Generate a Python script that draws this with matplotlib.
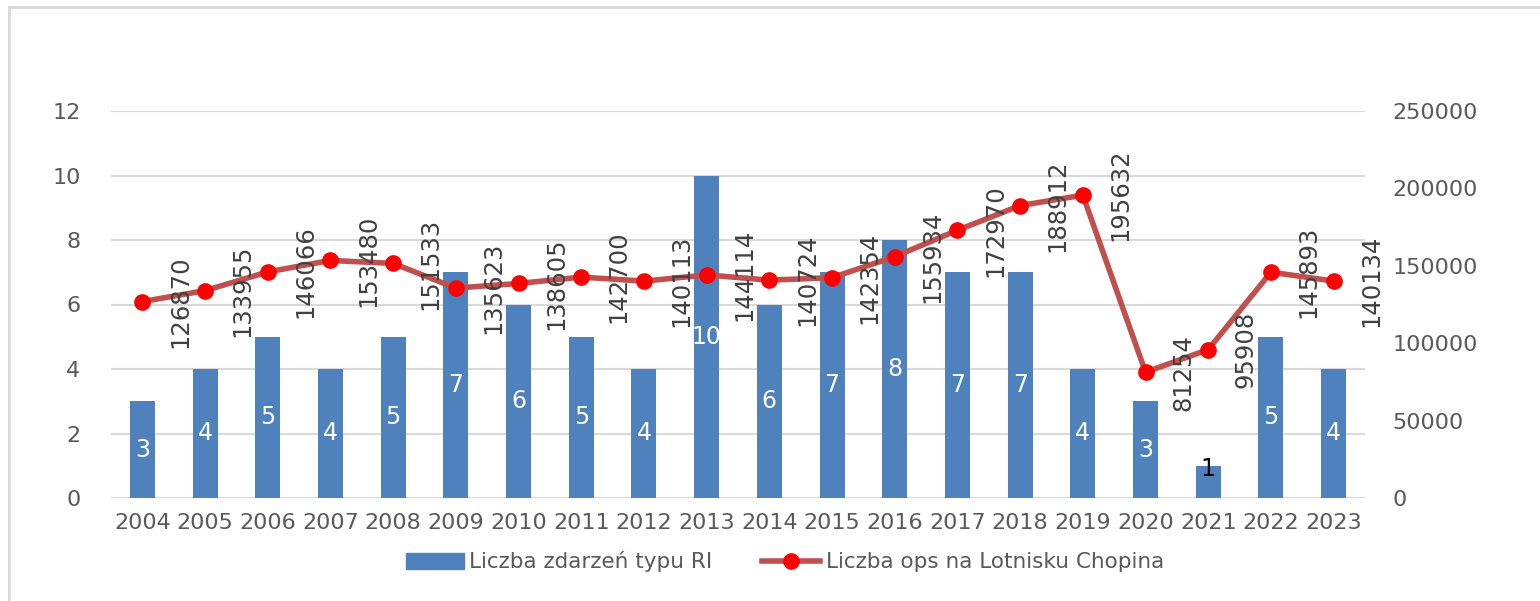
import matplotlib
matplotlib.use("Agg")
import matplotlib.pyplot as plt
from matplotlib.lines import Line2D
import numpy as np

years = ["2004", "2005", "2006", "2007", "2008", "2009", "2010", "2011", "2012", "2013",
         "2014", "2015", "2016", "2017", "2018", "2019", "2020", "2021", "2022", "2023"]
ri_events = [3, 4, 5, 4, 5, 7, 6, 5, 4, 10, 6, 7, 8, 7, 7, 4, 3, 1, 5, 4]
ops = [126870, 133955, 146066, 153480, 151533, 135623, 138605, 142700, 140113, 144114,
       140724, 142354, 155934, 172970, 188912, 195632, 81254, 95908, 145893, 140134]
left_ticks = [0, 2, 4, 6, 8, 10, 12]
right_ticks = [0, 50000, 100000, 150000, 200000, 250000]
bar_label = "Liczba zdarzeń typu RI"
line_label = "Liczba ops na Lotnisku Chopina"

TXT = "#595959"
BAR = "#4F81BD"
LINE = "#C0504D"
GRID = "#D9D9D9"

plt.rcParams['font.family'] = ['DejaVu Sans']

fig = plt.figure(figsize=(15.4, 6.01), dpi=100)
# outer border (top and left visible)
fig.add_artist(Line2D([9/1540, 9/1540], [0, 1 - 7/601], transform=fig.transFigure,
                      color="#D9D9D9", lw=2))
fig.add_artist(Line2D([9/1540, 1], [1 - 7/601, 1 - 7/601], transform=fig.transFigure,
                      color="#D9D9D9", lw=2))

ax = fig.add_axes([111/1540, 1 - 498/601, (1365 - 111)/1540, (498 - 111)/601])
x = np.arange(len(years))
bars = ax.bar(x, ri_events, width=0.4, color=BAR, zorder=2)
ax.set_ylim(0, 12)
ax.set_yticks(left_ticks)
ax.set_xlim(-0.5, len(years) - 0.5)
ax.set_xticks(x)
ax.set_xticklabels(years)
ax.grid(axis='y', color=GRID, lw=1.5, zorder=0)
ax.set_axisbelow(True)
for s in ax.spines.values():
    s.set_visible(False)
ax.tick_params(axis='both', length=0, labelsize=16, colors=TXT)
ax.tick_params(axis='y', pad=22)
ax.tick_params(axis='x', pad=11)

for xi, v in zip(x, ri_events):
    col = "white" if v >= 2 else "black"
    ypos = v / 2 if v >= 2 else v * 0.9
    ax.text(xi, ypos, str(v), ha='center', va='center', color=col, fontsize=17, zorder=5)

ax2 = ax.twinx()
ax2.set_ylim(0, 250000)
ax2.set_yticks(right_ticks)
for s in ax2.spines.values():
    s.set_visible(False)
ax2.tick_params(axis='y', length=0, labelsize=16, colors=TXT, pad=20)
ax2.plot(x, ops, color=LINE, lw=4, marker='o', markersize=11,
         markerfacecolor='#FF0000', markeredgecolor='#FF0000', zorder=4)
for xi, v in zip(x, ops):
    ax2.annotate(str(v), (xi, v), xytext=(27, 0), textcoords='offset points',
                 rotation=90, ha='center', va='center', fontsize=17.5, color="#404040", zorder=6)

handles = [plt.Rectangle((0, 0), 1, 1, color=BAR),
           Line2D([0], [0], color=LINE, lw=4, marker='o', markersize=11,
                  markerfacecolor='#FF0000', markeredgecolor='#FF0000')]
fig.legend(handles, [bar_label, line_label], loc='center', bbox_to_anchor=(785/1540, 1 - 562/601),
           ncol=2, frameon=False, fontsize=15.5, labelcolor=TXT, handlelength=2.7,
           columnspacing=2.3, handletextpad=0.25)

fig.savefig("out.png", dpi=100)
